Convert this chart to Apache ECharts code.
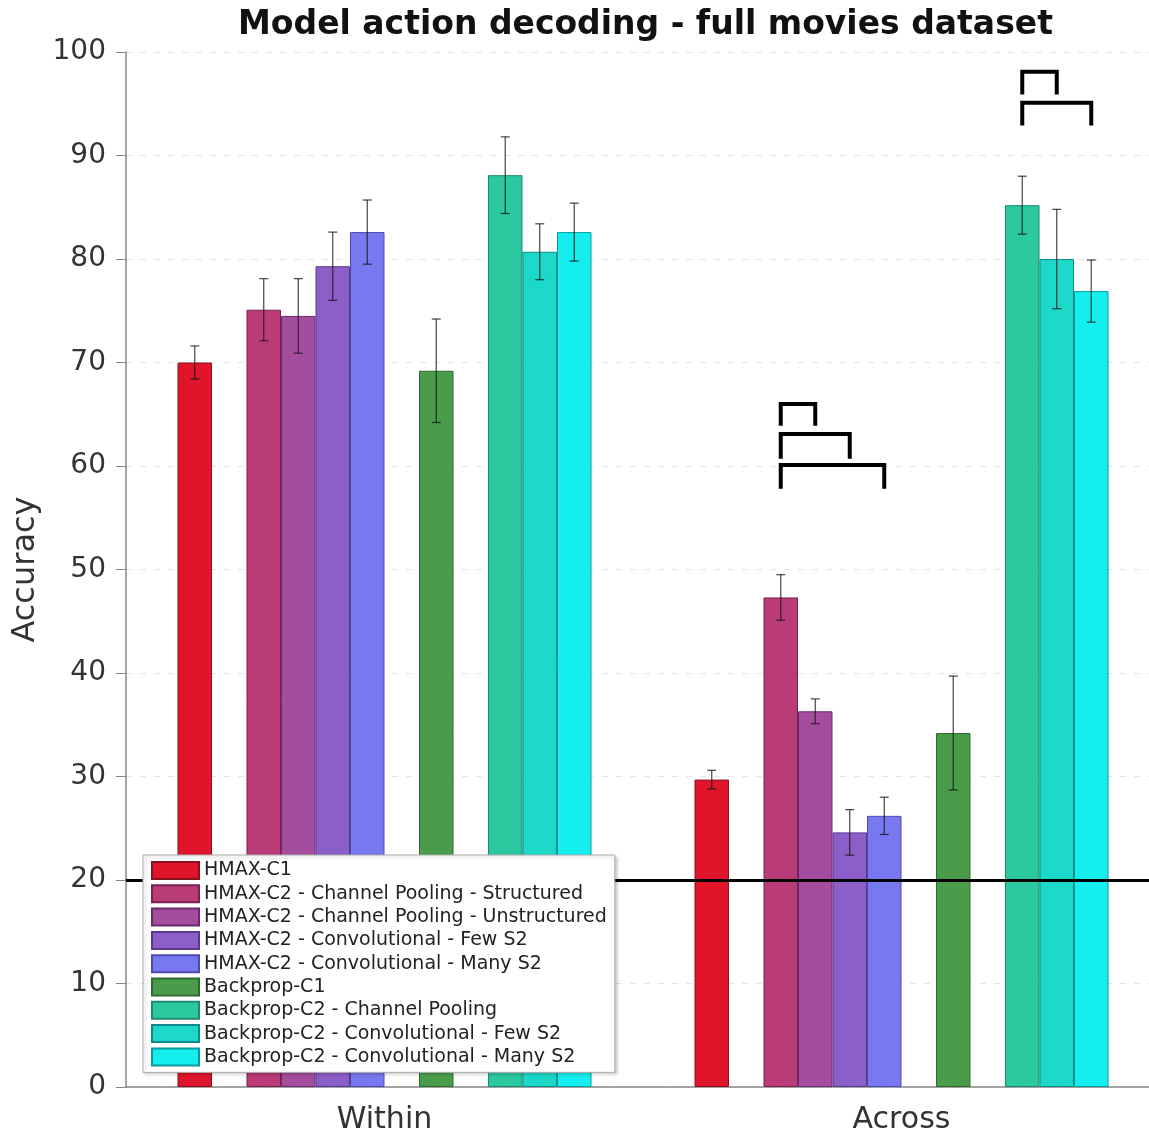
<!DOCTYPE html>
<html>
<head>
<meta charset="utf-8">
<script src="https://cdn.jsdelivr.net/npm/echarts@6/dist/echarts.min.js"></script>
<style>html,body{margin:0;padding:0;background:#fff}#c{width:1149px;height:1137px}</style>
</head>
<body>
<div id="c"></div>
<script>
// ---- data ----
const categories = ['Within', 'Across'];
const seriesNames = [
  'HMAX-C1',
  'HMAX-C2 - Channel Pooling - Structured',
  'HMAX-C2 - Channel Pooling - Unstructured',
  'HMAX-C2 - Convolutional - Few S2',
  'HMAX-C2 - Convolutional - Many S2',
  'Backprop-C1',
  'Backprop-C2 - Channel Pooling',
  'Backprop-C2 - Convolutional - Few S2',
  'Backprop-C2 - Convolutional - Many S2'
];
const hmaxC1Mean = [70.0, 29.7];          const hmaxC1Err = [1.6, 0.9];
const hmaxCpStructMean = [75.1, 47.3];    const hmaxCpStructErr = [3.0, 2.2];
const hmaxCpUnstructMean = [74.5, 36.3];  const hmaxCpUnstructErr = [3.6, 1.2];
const hmaxConvFewMean = [79.3, 24.6];     const hmaxConvFewErr = [3.3, 2.2];
const hmaxConvManyMean = [82.6, 26.2];    const hmaxConvManyErr = [3.1, 1.8];
const bpC1Mean = [69.2, 34.2];            const bpC1Err = [5.0, 5.5];
const bpCpMean = [88.1, 85.2];            const bpCpErr = [3.7, 2.8];
const bpConvFewMean = [80.7, 80.0];       const bpConvFewErr = [2.7, 4.8];
const bpConvManyMean = [82.6, 76.9];      const bpConvManyErr = [2.8, 3.0];
// significance brackets: [categoryIndex, fromSeries, toSeries, top, bottom]
const brackets = [
  [1, 1, 2, 66.0, 63.9],
  [1, 1, 3, 63.1, 60.7],
  [1, 1, 4, 60.1, 57.8],
  [1, 6, 7, 98.1, 95.9],
  [1, 6, 8, 95.1, 92.9]
];
const chanceLevel = 20;
const yTicks = { min: 0, max: 100, interval: 10 };

// ---- styling / layout ----
const means = [hmaxC1Mean, hmaxCpStructMean, hmaxCpUnstructMean, hmaxConvFewMean, hmaxConvManyMean, bpC1Mean, bpCpMean, bpConvFewMean, bpConvManyMean];
const errs = [hmaxC1Err, hmaxCpStructErr, hmaxCpUnstructErr, hmaxConvFewErr, hmaxConvManyErr, bpC1Err, bpCpErr, bpConvFewErr, bpConvManyErr];
const colors = ['#e0142a', '#b93c78', '#a44c9e', '#8c5ec8', '#7878f0', '#4a9c4a', '#2cc8a0', '#1cd8c8', '#14eeee'];
const borders = ['#8a1020', '#7a2050', '#6a2a70', '#5a3890', '#4a4ab0', '#2e6a2e', '#1a8a70', '#108a88', '#0a9a9a'];
const slotOf = [0, 2, 3, 4, 5, 7, 9, 10, 11];   // positions within a group (gaps at 1, 6, 8)
const NSLOT = 12;
const BAR_W = 34.5;
const FONT = 'DejaVu Sans';

const series = [];
for (let s = 0; s < NSLOT; s++) {
  const idx = slotOf.indexOf(s);
  if (idx >= 0) {
    series.push({
      name: seriesNames[idx], type: 'bar', data: means[idx],
      barWidth: BAR_W, barGap: '0%',
      itemStyle: { color: colors[idx], borderColor: borders[idx], borderWidth: 1 },
      z: 2
    });
  } else {
    series.push({ name: '_gap' + s, type: 'bar', data: ['-', '-'], barWidth: BAR_W, barGap: '0%' });
  }
}

const errData = [];
for (let i = 0; i < means.length; i++) {
  for (let c = 0; c < categories.length; c++) {
    errData.push([c, slotOf[i], means[i][c], errs[i][c]]);
  }
}
series.push({
  type: 'custom', name: 'err', z: 4, silent: true,
  encode: { x: 0, y: 2 },
  data: errData,
  renderItem: function (params, api) {
    const c = api.value(0), slot = api.value(1), m = api.value(2), e = api.value(3);
    const x = api.coord([c, m])[0] + (slot - (NSLOT - 1) / 2) * BAR_W;
    const y1 = api.coord([c, m + e])[1], y2 = api.coord([c, m - e])[1];
    const st = { stroke: 'rgba(20,20,20,0.8)', lineWidth: 1.2 };
    return { type: 'group', children: [
      { type: 'line', shape: { x1: x, y1: y1, x2: x, y2: y2 }, style: st },
      { type: 'line', shape: { x1: x - 4.5, y1: y1, x2: x + 4.5, y2: y1 }, style: st },
      { type: 'line', shape: { x1: x - 4.5, y1: y2, x2: x + 4.5, y2: y2 }, style: st }
    ]};
  }
});

series.push({
  type: 'custom', name: 'sig', z: 5, silent: true,
  encode: { x: 0, y: 3 },
  data: brackets.map(b => [b[0], slotOf[b[1]], slotOf[b[2]], b[3], b[4]]),
  renderItem: function (params, api) {
    const c = api.value(0), s1 = api.value(1), s2 = api.value(2), top = api.value(3), bot = api.value(4);
    const cx = api.coord([c, top])[0];
    const xa = cx + (s1 - (NSLOT - 1) / 2) * BAR_W, xb = cx + (s2 - (NSLOT - 1) / 2) * BAR_W;
    const yt = api.coord([c, top])[1], yb = api.coord([c, bot])[1];
    return { type: 'polyline', shape: { points: [[xa, yb], [xa, yt], [xb, yt], [xb, yb]] },
      style: { stroke: '#000', lineWidth: 4, fill: null, lineJoin: 'miter', lineCap: 'butt' } };
  },
  markLine: {
    silent: true, symbol: 'none', label: { show: false },
    lineStyle: { color: '#000', width: 3, type: 'solid' },
    data: [{ yAxis: chanceLevel }]
  }
});

const chart = echarts.init(document.getElementById('c'), null, { renderer: 'canvas' });
chart.setOption({
  animation: false,
  backgroundColor: '#fff',
  title: {
    text: 'Model action decoding - full movies dataset',
    left: 233, top: 4,
    textStyle: { fontFamily: FONT, fontWeight: 'bold', fontSize: 33, color: '#111' }
  },
  legend: {
    data: seriesNames,
    orient: 'vertical', left: 143, top: 855, z: 10,
    padding: [6, 8, 6, 8], itemGap: 4.3, itemWidth: 47, itemHeight: 17,
    backgroundColor: '#fff', borderColor: '#aaa', borderWidth: 1, borderRadius: 0,
    shadowColor: 'rgba(0,0,0,0.2)', shadowBlur: 3, shadowOffsetX: 2, shadowOffsetY: 2,
    icon: 'rect', selectedMode: false,
    textStyle: { fontFamily: FONT, fontSize: 19, lineHeight: 19, color: '#222' }
  },
  grid: { left: 126, width: 1034, top: 52, bottom: 50, containLabel: false, outerBoundsMode: 'none' },
  xAxis: {
    type: 'category', data: categories,
    axisLine: { lineStyle: { color: '#888', width: 1.5 } },
    axisTick: { alignWithLabel: true, length: 8, lineStyle: { color: '#888' } },
    axisLabel: { fontFamily: FONT, fontSize: 30, color: '#333', margin: 18 },
    splitLine: { show: false }
  },
  yAxis: {
    type: 'value', min: yTicks.min, max: yTicks.max, interval: yTicks.interval,
    name: 'Accuracy', nameLocation: 'middle', nameGap: 80,
    nameTextStyle: { fontFamily: FONT, fontSize: 32, color: '#333' },
    axisLine: { show: true, lineStyle: { color: '#888', width: 1.5 } },
    axisTick: { show: true, length: 10, lineStyle: { color: '#888' } },
    axisLabel: { fontFamily: FONT, fontSize: 28, color: '#333', margin: 20 },
    splitLine: { show: true, lineStyle: { color: '#e4e4e4', type: [6, 8], width: 1 } }
  },
  series: series
});
</script>
</body>
</html>
